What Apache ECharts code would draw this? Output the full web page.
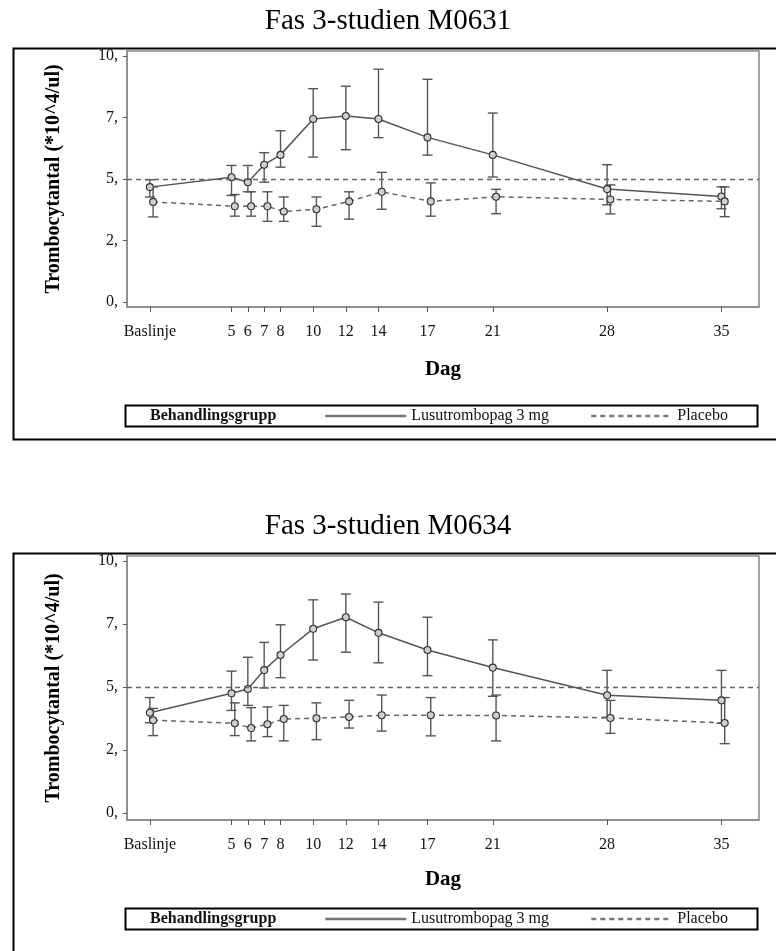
<!DOCTYPE html>
<html>
  <head>
    <meta charset="UTF-8">
    <title>Trombocytantal</title>
    <script src="https://cdn.jsdelivr.net/npm/echarts@6.0.0/dist/echarts.min.js"></script>
    <style>
      body { margin: 0; background: #fff; }
      #main { width: 776px; height: 951px; }
    </style>
  </head>
  <body>
    <div id="main"></div>
    <script type="text/javascript">
      // dagar och etiketter
      var days = [0, 5, 6, 7, 8, 10, 12, 14, 17, 21, 28, 35];
      var dayLabels = ['Baslinje', '5', '6', '7', '8', '10', '12', '14', '17', '21', '28', '35'];
      var yTicks = [0, 2.5, 5, 7.5, 10];
      var refLevel = 5;

      // M0631
      var m0631LusuMean = [4.67, 5.07, 4.87, 5.58, 5.98, 7.44, 7.56, 7.44, 6.69, 5.98, 4.59, 4.29];
      var m0631LusuLow  = [4.27, 4.33, 4.48, 4.87, 5.48, 5.89, 6.19, 6.68, 5.97, 5.08, 3.95, 3.79];
      var m0631LusuHigh = [4.97, 5.55, 5.55, 6.07, 6.96, 8.67, 8.77, 9.46, 9.05, 7.68, 5.58, 4.68];
      var m0631PlacMean = [4.07, 3.89, 3.89, 3.89, 3.68, 3.77, 4.09, 4.48, 4.09, 4.28, 4.17, 4.09];
      var m0631PlacLow  = [3.46, 3.49, 3.49, 3.28, 3.28, 3.08, 3.37, 3.77, 3.49, 3.59, 3.58, 3.47];
      var m0631PlacHigh = [4.68, 4.37, 4.48, 4.48, 4.27, 4.27, 4.48, 5.27, 4.84, 4.58, 4.76, 4.68];

      // M0634
      var m0634LusuMean = [3.98, 4.75, 4.92, 5.67, 6.27, 7.31, 7.77, 7.15, 6.47, 5.77, 4.67, 4.47];
      var m0634LusuLow  = [3.58, 4.07, 4.27, 4.96, 5.37, 6.07, 6.38, 5.96, 5.45, 4.63, 3.80, 3.56];
      var m0634LusuHigh = [4.58, 5.63, 6.18, 6.77, 7.47, 8.46, 8.69, 8.37, 7.77, 6.87, 5.66, 5.66];
      var m0634PlacMean = [3.68, 3.56, 3.37, 3.52, 3.73, 3.76, 3.81, 3.88, 3.88, 3.87, 3.77, 3.57];
      var m0634PlacLow  = [3.07, 3.07, 2.86, 3.03, 2.86, 2.91, 3.37, 3.25, 3.06, 2.86, 3.16, 2.75];
      var m0634PlacHigh = [4.15, 4.37, 4.18, 4.21, 4.27, 4.37, 4.47, 4.68, 4.58, 4.68, 4.47, 4.58];

      var LUSU = 'Lusutrombopag 3 mg';
      var PLAC = 'Placebo';
      var serif = 'Liberation Serif, Times New Roman, serif';
      var placShift = 0.2;   // placebo lite förskjuten åt höger

      function points(mean, shift) {
        var out = [];
        for (var i = 0; i < days.length; i++) out.push([days[i] + shift, mean[i]]);
        return out;
      }
      function bars(low, high, shift) {
        var out = [];
        for (var i = 0; i < days.length; i++) out.push([days[i] + shift, low[i], high[i]]);
        return out;
      }

      function renderErr(params, api) {
        var x = api.value(0);
        var lo = api.coord([x, api.value(1)]);
        var hi = api.coord([x, api.value(2)]);
        var w = 5;
        var st = { stroke: '#555', lineWidth: 1.4, fill: null };
        return {
          type: 'group',
          children: [
            { type: 'line', shape: { x1: lo[0], y1: lo[1], x2: hi[0], y2: hi[1] }, style: st },
            { type: 'line', shape: { x1: lo[0] - w, y1: lo[1], x2: lo[0] + w, y2: lo[1] }, style: st },
            { type: 'line', shape: { x1: hi[0] - w, y1: hi[1], x2: hi[0] + w, y2: hi[1] }, style: st }
          ]
        };
      }

      function makeSeries(idx, lm, ll, lh, pm, pl, ph) {
        return [
          {
            type: 'custom', xAxisIndex: idx, yAxisIndex: idx, renderItem: renderErr,
            encode: { x: 0, y: [1, 2] }, data: bars(ll, lh, 0), z: 2
          },
          {
            type: 'custom', xAxisIndex: idx, yAxisIndex: idx, renderItem: renderErr,
            encode: { x: 0, y: [1, 2] }, data: bars(pl, ph, placShift), z: 2
          },
          {
            name: LUSU, type: 'line', xAxisIndex: idx, yAxisIndex: idx,
            data: points(lm, 0), symbol: 'circle', symbolSize: 7,
            itemStyle: { color: '#cfcfcf', borderColor: '#333', borderWidth: 1.1 },
            lineStyle: { color: '#555', width: 1.5, type: 'solid' },
            z: 3,
            markLine: {
              silent: true, symbol: ['none', 'none'], label: { show: false },
              lineStyle: { color: '#666', width: 1.3, type: [5, 4] },
              data: [{ yAxis: refLevel }]
            }
          },
          {
            name: PLAC, type: 'line', xAxisIndex: idx, yAxisIndex: idx,
            data: points(pm, placShift), symbol: 'circle', symbolSize: 7,
            itemStyle: { color: '#cfcfcf', borderColor: '#333', borderWidth: 1.1 },
            lineStyle: { color: '#666', width: 1.5, type: [5, 4] },
            z: 3
          }
        ];
      }

      function xAxisFor(idx) {
        return {
          type: 'value', gridIndex: idx, min: -1.4, max: 37.3,
          name: 'Dag', nameLocation: 'middle', nameGap: idx === 0 ? 52 : 49,
          nameTextStyle: { fontFamily: serif, fontWeight: 'bold', fontSize: 21, color: '#000' },
          axisLine: { show: true, onZero: false, lineStyle: { color: '#888', width: 1.5 } },
          axisTick: { show: true, length: 5, customValues: days, lineStyle: { color: '#555' } },
          axisLabel: {
            customValues: days, margin: 17, fontFamily: serif, fontSize: 16, color: '#111',
            formatter: function (v) { return dayLabels[days.indexOf(v)]; }
          },
          splitLine: { show: false }
        };
      }

      function yAxisFor(idx, min) {
        return {
          type: 'value', gridIndex: idx, min: min, max: 10.2,
          name: 'Trombocytantal (*10^4/ul)', nameLocation: 'middle', nameGap: 63, nameRotate: 90,
          nameTextStyle: { fontFamily: serif, fontWeight: 'bold', fontSize: 20, color: '#000' },
          axisLine: { show: true, onZero: false, lineStyle: { color: '#888', width: 1.5 } },
          axisTick: { show: true, length: 4, customValues: yTicks, lineStyle: { color: '#555' } },
          axisLabel: {
            customValues: yTicks, margin: 9, fontFamily: serif, fontSize: 16, color: '#111',
            formatter: function (v) { return Math.floor(v) + ','; }
          },
          splitLine: { show: false }
        };
      }

      function legendFor(top) {
        return {
          top: top, left: 319, itemWidth: 81, itemHeight: 4, itemGap: 41,
          data: [LUSU, PLAC], selectedMode: false,
          itemStyle: { opacity: 0 },
          lineStyle: { width: 2.5, color: '#777' },
          textStyle: { fontFamily: serif, fontSize: 16, color: '#111' }
        };
      }

      function boxes(y0, h, legY) {
        return [
          { type: 'rect', left: 11, top: y0, shape: { width: 764, height: h },
            style: { fill: null, stroke: '#000', lineWidth: 2 } },
          { type: 'rect', left: 123, top: legY, shape: { width: 632, height: 21 },
            style: { fill: null, stroke: '#000', lineWidth: 2 } },
          { type: 'text', left: 150, top: legY + 5,
            style: { text: 'Behandlingsgrupp', font: 'bold 16px ' + serif, fill: '#111' } }
        ];
      }

      var chart = echarts.init(document.getElementById('main'));
      chart.setOption({
        animation: false,
        backgroundColor: '#fff',
        title: [
          { text: 'Fas 3-studien M0631', left: 'center', top: 2,
            textStyle: { fontFamily: serif, fontSize: 29, fontWeight: 'normal', color: '#000' } },
          { text: 'Fas 3-studien M0634', left: 'center', top: 507,
            textStyle: { fontFamily: serif, fontSize: 29, fontWeight: 'normal', color: '#000' } }
        ],
        grid: [
          { left: 127, top: 51, width: 632, height: 256, show: true, borderColor: '#888', borderWidth: 1.5 },
          { left: 127, top: 556, width: 632, height: 264, show: true, borderColor: '#888', borderWidth: 1.5 }
        ],
        xAxis: [xAxisFor(0), xAxisFor(1)],
        yAxis: [yAxisFor(0, -0.2), yAxisFor(1, -0.28)],
        legend: [legendFor(403), legendFor(906)],
        graphic: boxes(46, 391, 403).concat(boxes(551, 420, 906)),
        series: makeSeries(0, m0631LusuMean, m0631LusuLow, m0631LusuHigh, m0631PlacMean, m0631PlacLow, m0631PlacHigh)
          .concat(makeSeries(1, m0634LusuMean, m0634LusuLow, m0634LusuHigh, m0634PlacMean, m0634PlacLow, m0634PlacHigh))
      });
    </script>
  </body>
</html>
